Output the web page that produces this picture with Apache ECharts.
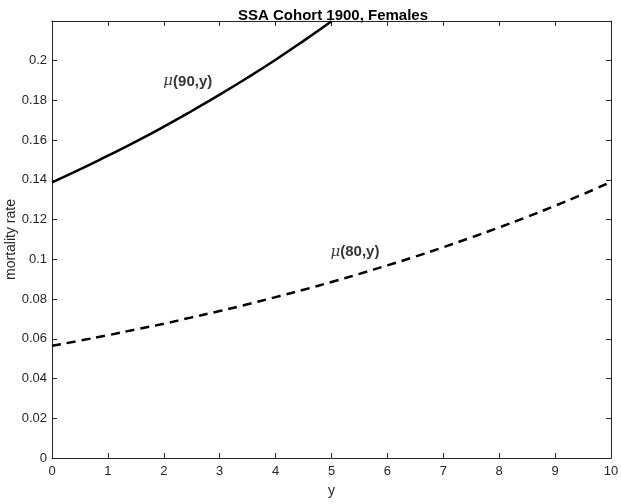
<!DOCTYPE html>
<html><head><meta charset="utf-8">
<script src="https://cdn.jsdelivr.net/npm/echarts@6/dist/echarts.min.js"></script>
<style>html,body{margin:0;padding:0;background:#fff}#c{width:621px;height:504px}</style>
</head><body><div id="c"></div>
<script>
const title = 'SSA Cohort 1900, Females';
const xName = 'y';
const yName = 'mortality rate';
const xs90 = [0,0.5,1,1.5,2,2.5,3,3.5,4,4.5,5];
const mu90 = [0.1388,0.1453,0.1522,0.1593,0.1668,0.1747,0.1829,0.1915,0.2005,0.2100,0.2199];
const xs80 = [0,0.5,1,1.5,2,2.5,3,3.5,4,4.5,5,5.5,6,6.5,7,7.5,8,8.5,9,9.5,10];
const mu80 = [0.0565,0.0591,0.0618,0.0647,0.0676,0.0708,0.0740,0.0774,0.0810,0.0847,0.0886,0.0927,0.0970,0.1014,0.1061,0.1110,0.1161,0.1214,0.1270,0.1328,0.1390];
const labels = [{x:2.43,y:0.1895,a:'90'},{x:5.42,y:0.1038,a:'80'}];
const xMin=0,xMax=10,xStep=1,yMin=0,yMax=0.22,yStep=0.02;

const axisColor='#262626';
const font='Arial, "Liberation Sans", sans-serif';
const chart = echarts.init(document.getElementById('c'));
const common = {
  axisLine:{show:true,onZero:false,lineStyle:{color:axisColor,width:1}},
  axisTick:{show:true,inside:true,length:5,lineStyle:{color:axisColor}},
  splitLine:{show:false}
};
chart.setOption({
  animation:false,
  backgroundColor:'#fff',
  title:{text:title,left:328,textAlign:'center',top:3,textStyle:{fontFamily:font,fontSize:15,fontWeight:'bold',color:'#000'}},
  grid:{left:52,right:10,top:21,bottom:46,containLabel:false,outerBoundsMode:'none'},
  xAxis:[
    Object.assign({type:'value',min:xMin,max:xMax,interval:xStep,position:'bottom',name:xName,nameLocation:'middle',nameGap:26,nameMoveOverlap:false,
      nameTextStyle:{fontFamily:font,fontSize:14,color:axisColor,verticalAlign:'top'},
      axisLabel:{fontFamily:font,fontSize:13,color:axisColor,margin:7}},common),
    Object.assign({type:'value',min:xMin,max:xMax,interval:xStep,position:'top',axisLabel:{show:false}},common)
  ],
  yAxis:[
    Object.assign({type:'value',min:yMin,max:yMax,interval:yStep,position:'left',name:yName,nameLocation:'middle',nameGap:34,nameMoveOverlap:false,
      nameTextStyle:{fontFamily:font,fontSize:14,color:axisColor},
      axisLabel:{fontFamily:font,fontSize:13,color:axisColor,margin:5,
        formatter:v=>v>0.21?'':String(+v.toFixed(2))}},common),
    Object.assign({type:'value',min:yMin,max:yMax,interval:yStep,position:'right',axisLabel:{show:false}},common)
  ],
  series:[
    {type:'line',data:xs90.map((x,i)=>[x,mu90[i]]),showSymbol:false,smooth:true,clip:true,
      lineStyle:{color:'#000',width:2.5}},
    {type:'line',data:xs80.map((x,i)=>[x,mu80[i]]),showSymbol:false,smooth:true,clip:true,
      lineStyle:{color:'#000',width:2.5,type:[9,6]}},
    {type:'scatter',symbolSize:0,data:labels.map(l=>({value:[l.x,l.y],name:l.a})),
      label:{show:true,position:'inside',formatter:p=>'{m|μ}{b|('+p.name+',y)}',
        rich:{m:{fontFamily:'"DejaVu Serif", serif',fontSize:15,fontStyle:'italic',color:'#000'},
              b:{fontFamily:font,fontSize:15,fontWeight:'bold',color:'#000'}}}}
  ]
});
</script></body></html>
